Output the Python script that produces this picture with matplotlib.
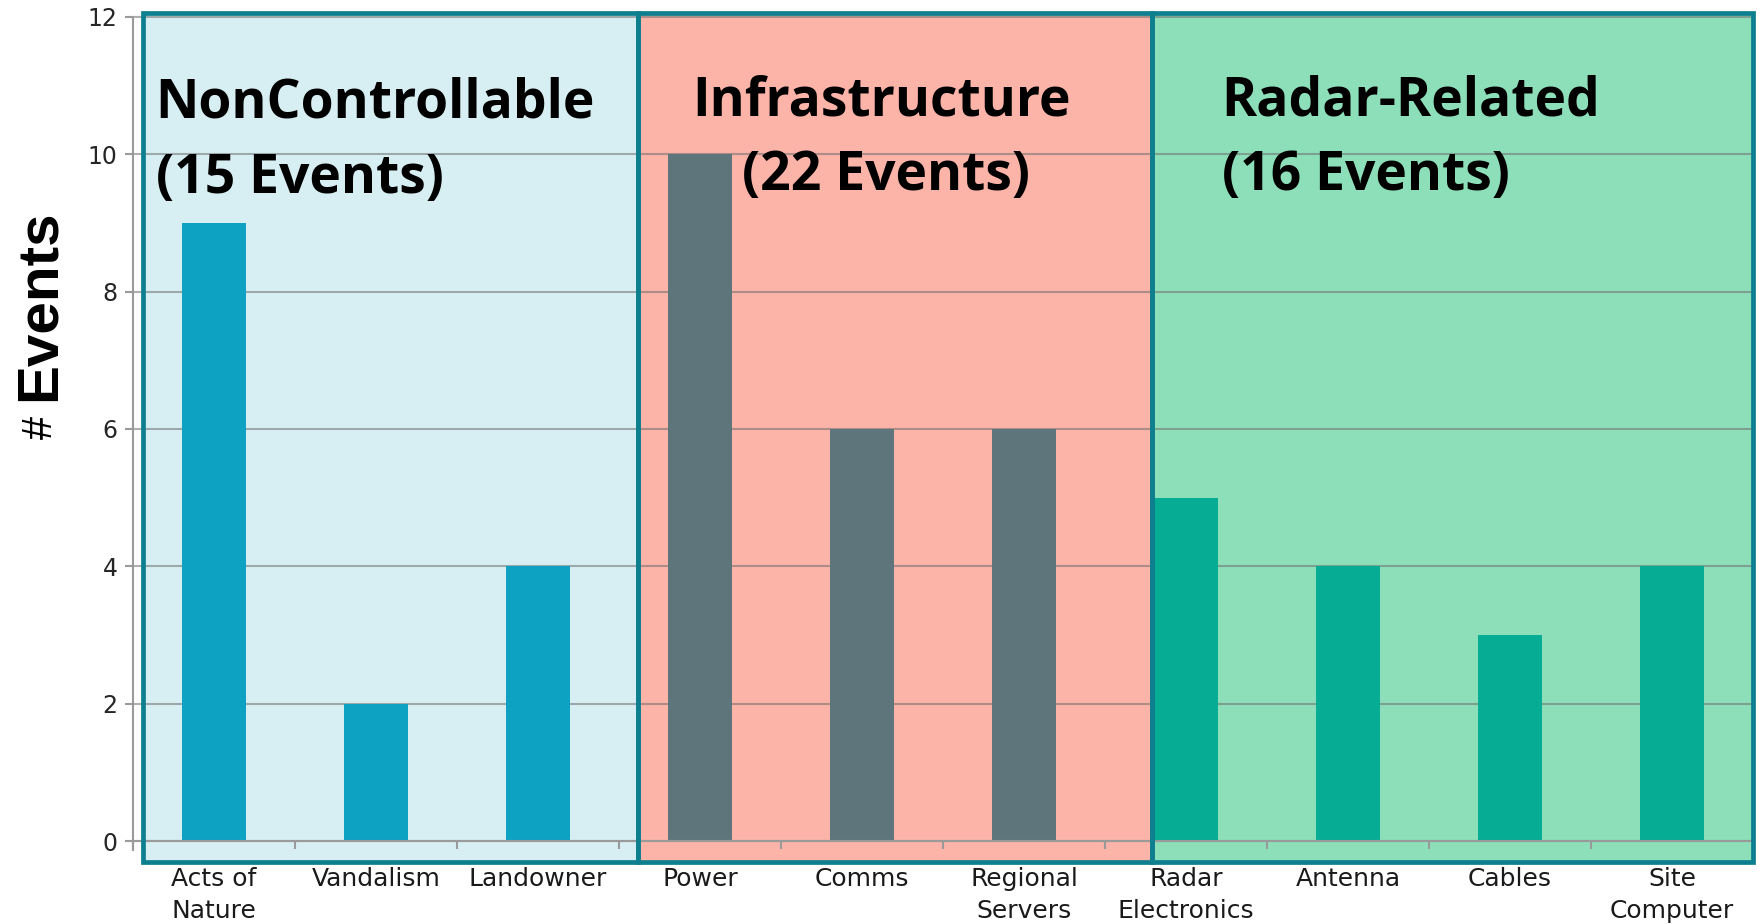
import numpy as np
from matplotlib import pyplot as plt
from matplotlib.patches import Rectangle

# data
categories = ["Acts of\nNature", "Vandalism", "Landowner",
              "Power", "Comms", "Regional\nServers",
              "Radar\nElectronics", "Antenna", "Cables", "Site\nComputer"]
events = [9, 2, 4, 10, 6, 6, 5, 4, 3, 4]
group_of = [0, 0, 0, 1, 1, 1, 2, 2, 2, 2]
group_names = ["NonControllable", "Infrastructure", "Radar-Related"]

# styling
bg_colors = ["#D7EFF3", "#FCB3A8", "#8DDFBA"]
bar_colors = ["#0EA2C2", "#5E767B", "#07AC95"]
edge_color = "#0E7F8E"
axis_gray = "#9A9A9A"
group_edges = [-0.44, 2.62, 5.79, 9.5]

fig = plt.figure(figsize=(17.63, 9.24), dpi=100)
ax = fig.add_axes([0.07544, 0.05638, 0.91889, 0.9364])

x = np.arange(len(categories))
ax.set_xlim(-0.5, 9.5)
ax.set_ylim(-0.45, 12.15)

# coloured group boxes
for g in range(3):
    x0, x1 = group_edges[g], group_edges[g + 1]
    ax.add_patch(Rectangle((x0, -0.31), x1 - x0, 12.365, facecolor=bg_colors[g],
                           edgecolor='none', zorder=0.2))
for g in range(3):
    x0, x1 = group_edges[g], group_edges[g + 1]
    ax.add_patch(Rectangle((x0, -0.31), x1 - x0, 12.365, facecolor='none',
                           edgecolor=edge_color, lw=3.4, zorder=3, clip_on=False))

ax.bar(x, events, width=0.4, color=[bar_colors[g] for g in group_of], zorder=2)

# group titles
totals = [sum(v for v, g in zip(events, group_of) if g == k) for k in range(3)]
title_font = dict(family='Open Sans', fontweight='bold', fontsize=38.5, color='black', zorder=4)
ax.text(-0.36, 10.53, group_names[0], ha='left', va='baseline', **title_font)
ax.text(-0.36, 9.44, f"({totals[0]} Events)", ha='left', va='baseline', **title_font)
ax.text(4.12, 10.56, group_names[1], ha='center', va='baseline', **title_font)
ax.text(4.15, 9.48, f"({totals[1]} Events)", ha='center', va='baseline', **title_font)
ax.text(6.22, 10.56, group_names[2], ha='left', va='baseline', **title_font)
ax.text(6.22, 9.48, f"({totals[2]} Events)", ha='left', va='baseline', **title_font)

# gridlines
ax.set_yticks(range(0, 13, 2))
ax.set_axisbelow(True)
ax.yaxis.grid(True, color='#6E6E6E', alpha=0.55, lw=1.5)

# axes styling
for s in ['top', 'right']:
    ax.spines[s].set_visible(False)
ax.spines['bottom'].set_position(('data', 0))
ax.spines['bottom'].set_color(axis_gray)
ax.spines['bottom'].set_linewidth(1.5)
ax.spines['left'].set_color(axis_gray)
ax.spines['left'].set_linewidth(1.5)
ax.spines['left'].set_bounds(-0.13, 12)

ax.set_xticks(np.arange(-0.5, 10, 1))
ax.set_xticklabels([])
ax.set_xticks(x, categories, minor=True)
ax.tick_params(axis='x', which='major', direction='out', length=6, width=1.5, color=axis_gray)
ax.tick_params(axis='x', which='minor', length=0, pad=19, labelsize=18, labelcolor='#1A1A1A')
ax.tick_params(axis='y', direction='out', length=6, width=1.5, color=axis_gray,
               pad=5, labelsize=17, labelcolor='#262626')
for lbl in ax.get_xticklabels(minor=True):
    lbl.set_zorder(5)
    lbl.set_linespacing(1.4)

# y label: "#" regular, "Events" bold
fig.text(40 / 1763, 1 - 305 / 924, "Events", rotation=90, ha='center', va='center',
         family='Liberation Sans', fontweight='bold', fontsize=42)
fig.text(41 / 1763, 1 - 427 / 924, "#", rotation=90, ha='center', va='center',
         family='Liberation Sans', fontsize=30)

plt.savefig("out.png", dpi=100)
